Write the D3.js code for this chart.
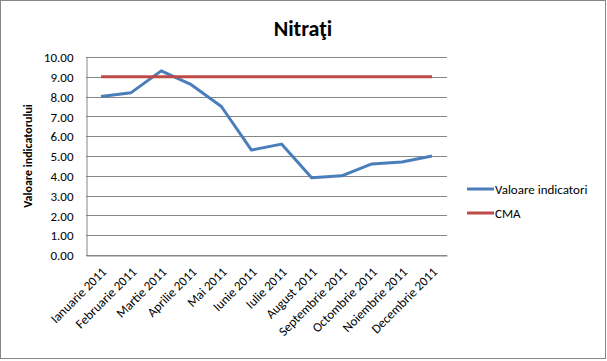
<!DOCTYPE html>
<html><head><meta charset="utf-8">
<script src="https://cdn.jsdelivr.net/npm/d3@7"></script>
<style>body{margin:0;background:#fff}svg{display:block}</style>
</head><body>
<script>
const categories = ["Ianuarie 2011","Februarie 2011","Martie 2011","Aprilie 2011","Mai 2011","Iunie 2011","Iulie 2011","August 2011","Septembrie 2011","Octombrie 2011","Noiembrie 2011","Decembrie 2011"];
const valoare = [8.00, 8.20, 9.30, 8.60, 7.50, 5.30, 5.60, 3.90, 4.00, 4.60, 4.70, 5.00];
const cma = [9.00, 9.00, 9.00, 9.00, 9.00, 9.00, 9.00, 9.00, 9.00, 9.00, 9.00, 9.00];
const yTicks = [0,1,2,3,4,5,6,7,8,9,10];
const seriesNames = ["Valoare indicatori", "CMA"];
const colors = ["#4A7EBB", "#BE4B48"];
const font = "Calibri, Carlito, 'Liberation Sans', Arial, sans-serif";

const W = 607, H = 361;
const svg = d3.select("body").append("svg").attr("width", W).attr("height", H);
svg.append("rect").attr("x",0.5).attr("y",0.5).attr("width",W-2).attr("height",H-3)
  .attr("fill","#fff").attr("stroke","#868686");

const pLeft = 86, pRight = 447, pTop = 57, pBottom = 255;
const x = d3.scaleBand().domain(categories).range([pLeft, pRight]);
const y = d3.scaleLinear().domain([0, 10]).range([pBottom, pTop]);

// gridlines
svg.append("g").selectAll("line").data(yTicks).join("line")
  .attr("x1", pLeft).attr("x2", pRight)
  .attr("y1", d => Math.round(y(d)) + 0.5).attr("y2", d => Math.round(y(d)) + 0.5)
  .attr("stroke", "#868686").attr("stroke-width", 1);

// y axis
const yAxis = d3.axisLeft(y).tickValues(yTicks).tickFormat(d3.format(".2f")).tickSize(0).tickPadding(13);
const gy = svg.append("g").attr("transform", `translate(${pLeft + 0.5},0.5)`).call(yAxis);
gy.select(".domain").attr("stroke", "#868686");
gy.selectAll("text").attr("font-family", font).attr("font-size", 13).attr("fill", "#000");

// x axis
const xAxis = d3.axisBottom(x).tickSize(0).tickPadding(0);
const gx = svg.append("g").attr("transform", `translate(0,${Math.round(pBottom) + 0.5})`).call(xAxis);
gx.select(".domain").attr("stroke", "#868686");
gx.selectAll("text")
  .attr("font-family", font).attr("font-size", 13).attr("fill", "#000")
  .attr("text-anchor", "end")
  .attr("transform", "translate(3,14) rotate(-45)")
  .attr("dy", "0.35em").attr("y", 0);

const line = d3.line().x((d, i) => x(categories[i]) + x.bandwidth() / 2).y(d => y(d));
[valoare, cma].forEach((s, k) => {
  svg.append("path").datum(s).attr("d", line).attr("fill", "none")
    .attr("stroke", colors[k]).attr("stroke-width", 3).attr("stroke-linejoin", "round");
});

// title
svg.append("text").attr("x", 303).attr("y", 36).attr("text-anchor", "middle")
  .attr("font-family", font).attr("font-weight", "bold").attr("font-size", 22).text("Nitraţi");

// y label
svg.append("text").attr("transform", `translate(32,${(pTop + pBottom) / 2}) rotate(-90)`)
  .attr("text-anchor", "middle").attr("font-family", font).attr("font-weight", "bold")
  .attr("font-size", 12).text("Valoare indicatorului");

// legend
const lg = svg.append("g");
seriesNames.forEach((n, k) => {
  const ly = 189 + k * 24;
  lg.append("line").attr("x1", 467).attr("x2", 494).attr("y1", ly).attr("y2", ly)
    .attr("stroke", colors[k]).attr("stroke-width", 3);
  lg.append("text").attr("x", 495).attr("y", ly).attr("dy", "0.35em")
    .attr("font-family", font).attr("font-size", 13).text(n);
});
</script>
</body></html>
